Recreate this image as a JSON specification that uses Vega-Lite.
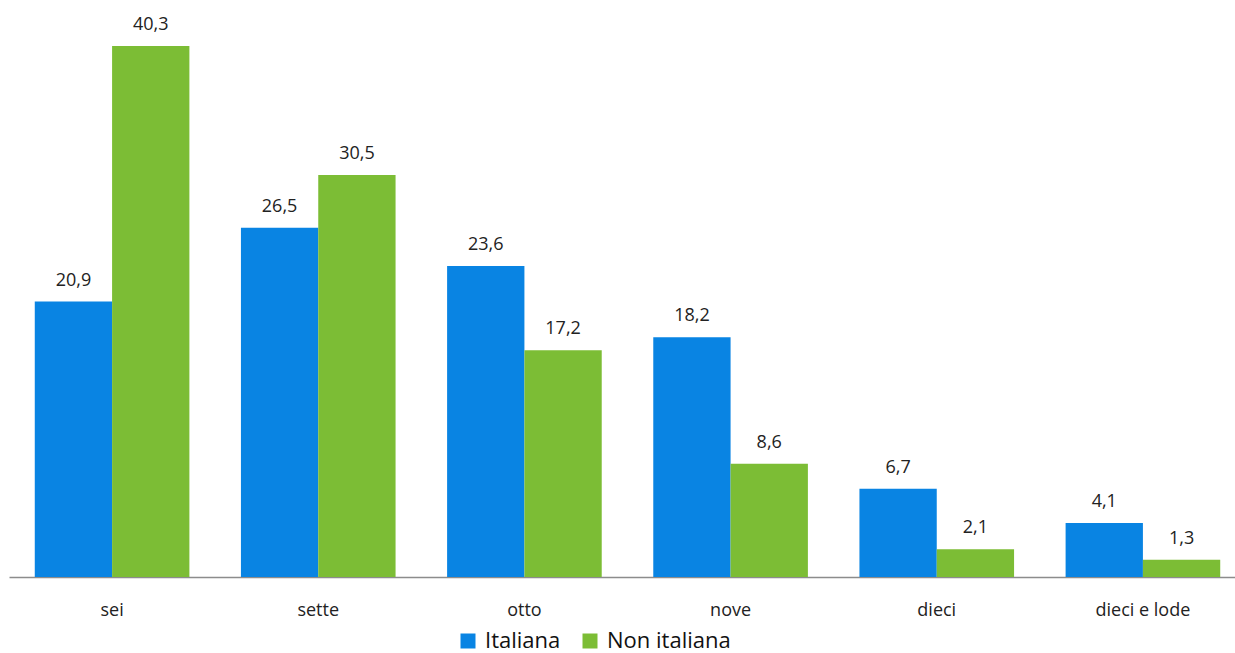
{
  "$schema": "https://vega.github.io/schema/vega-lite/v6.json",
  "width": 1237,
  "height": 577,
  "autosize": {"type": "none"},
  "padding": {"left": 9, "top": 0, "right": 0, "bottom": 76},
  "background": "white",
  "config": {
    "view": {"stroke": null},
    "font": "Open Sans",
    "locale": {"number": {"decimal": ",", "thousands": ".", "grouping": [3], "currency": ["€", ""]}}
  },
  "data": {
    "values": [
      {"voto": "sei", "cittadinanza": "Italiana", "valore": 20.9},
      {"voto": "sei", "cittadinanza": "Non italiana", "valore": 40.3},
      {"voto": "sette", "cittadinanza": "Italiana", "valore": 26.5},
      {"voto": "sette", "cittadinanza": "Non italiana", "valore": 30.5},
      {"voto": "otto", "cittadinanza": "Italiana", "valore": 23.6},
      {"voto": "otto", "cittadinanza": "Non italiana", "valore": 17.2},
      {"voto": "nove", "cittadinanza": "Italiana", "valore": 18.2},
      {"voto": "nove", "cittadinanza": "Non italiana", "valore": 8.6},
      {"voto": "dieci", "cittadinanza": "Italiana", "valore": 6.7},
      {"voto": "dieci", "cittadinanza": "Non italiana", "valore": 2.1},
      {"voto": "dieci e lode", "cittadinanza": "Italiana", "valore": 4.1},
      {"voto": "dieci e lode", "cittadinanza": "Non italiana", "valore": 1.3}
    ]
  },
  "encoding": {
    "x": {
      "field": "voto",
      "type": "nominal",
      "sort": ["sei", "sette", "otto", "nove", "dieci", "dieci e lode"],
      "scale": {"paddingInner": 0.25, "paddingOuter": 0.125},
      "axis": {
        "title": null,
        "labelAngle": 0,
        "ticks": false,
        "domainColor": "#8c8c8c",
        "domainWidth": 1.5,
        "labelFontSize": 18,
        "labelColor": "#222222",
        "labelPadding": 24,
        "labelFont": "Open Sans"
      }
    },
    "xOffset": {"field": "cittadinanza", "type": "nominal", "sort": ["Italiana", "Non italiana"], "scale": {"paddingInner": 0}},
    "y": {
      "field": "valore",
      "type": "quantitative",
      "scale": {"domain": [0, 43.79], "nice": false},
      "axis": null
    }
  },
  "layer": [
    {
      "mark": {"type": "bar"},
      "encoding": {
        "color": {
          "field": "cittadinanza",
          "type": "nominal",
          "scale": {"domain": ["Italiana", "Non italiana"], "range": ["#0984E3", "#7CBD35"]},
          "legend": {
            "title": null,
            "orient": "none",
            "direction": "horizontal",
            "legendX": 448,
            "legendY": 630,
            "symbolType": "square",
            "symbolSize": 225,
            "symbolStrokeWidth": 0,
            "labelFontSize": 22,
            "labelColor": "#111111",
            "labelFont": "Open Sans",
            "columnPadding": 18,
            "labelOffset": 6
          }
        }
      }
    },
    {
      "mark": {"type": "text", "dy": -21, "fontSize": 18, "color": "#222222", "font": "Open Sans"},
      "encoding": {
        "text": {"field": "valore", "type": "quantitative", "format": ".1f"}
      }
    }
  ]
}
